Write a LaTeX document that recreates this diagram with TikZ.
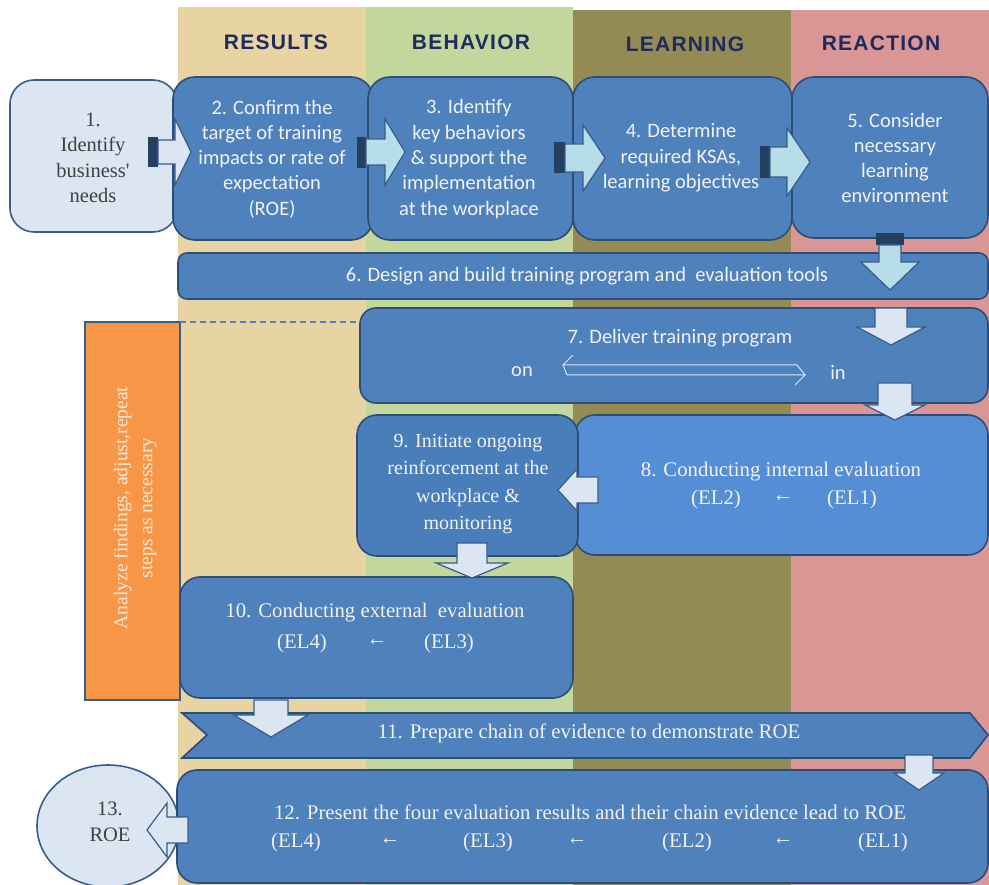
\documentclass[tikz,border=0pt]{standalone}
\usepackage{fontspec}
\setmainfont{Liberation Serif}
\newfontfamily\calfont{Carlito}
\newfontfamily\serfont{Liberation Serif}
\newfontfamily\hdrfont[LetterSpace=6]{Liberation Sans}
\usetikzlibrary{fit,shapes.geometric}
\definecolor{resc}{HTML}{E8D3A2}
\definecolor{behc}{HTML}{C3D69B}
\definecolor{learc}{HTML}{948A54}
\definecolor{reac}{HTML}{D99694}
\definecolor{boxc}{HTML}{4F81BD}
\definecolor{boxb}{HTML}{2C4D75}
\definecolor{boxnine}{HTML}{4A7EBB}
\definecolor{boxeight}{HTML}{558ED5}
\definecolor{lightc}{HTML}{DCE6F2}
\definecolor{cyanc}{HTML}{B7DEE8}
\definecolor{tailc}{HTML}{243F60}
\definecolor{arrline}{HTML}{385D8A}
\definecolor{hdrc}{HTML}{1F2A5E}
\definecolor{orc}{HTML}{F79646}
\definecolor{txtc}{HTML}{F2F2F2}
\definecolor{darktxt}{HTML}{404040}
\definecolor{ortxt}{HTML}{FDE9D9}
\newcommand\blockarrow[8]{%
\begin{scope}[shift={(#1,#2)}, rotate=#3]
\filldraw[draw=arrline, line width=1.2pt, fill=#8] (0,-#5) -- (#4,-#5) -- (#4,-#7) -- ({#4+#6},0) -- (#4,#7) -- (#4,#5) -- (0,#5) -- cycle;
\end{scope}}
\begin{document}
\begin{tikzpicture}[x=1pt,y=-1pt,
  box/.style={draw=boxb, line width=1.6pt, fill=boxc, rounded corners=22pt, inner sep=0pt, outer sep=0pt},
  lbox/.style={draw=arrline, line width=1.6pt, fill=lightc, rounded corners=24pt, inner sep=0pt, outer sep=0pt},
  obox/.style={draw=arrline, line width=1.6pt, fill=orc, inner sep=0pt, outer sep=0pt},
  hdr/.style={font=\hdrfont\bfseries\fontsize{21}{24}\selectfont, text=hdrc},
  ctxt/.style={font=\calfont\fontsize{20.5}{25.3}\selectfont, text=txtc, align=center, inner sep=0pt},
  stxt/.style={font=\serfont\fontsize{20.8}{26}\selectfont, text=txtc, align=center, inner sep=0pt},
  dtxt/.style={font=\serfont\fontsize{20.5}{25.5}\selectfont, text=darktxt, align=center, inner sep=0pt}
]
\useasboundingbox (0,0) rectangle (989,885);
% columns
\fill[resc] (178,7) rectangle (366,885);
\fill[behc] (366,7) rectangle (573,885);
\fill[learc] (573,10) rectangle (791,885);
\fill[reac] (791,10) rectangle (989,885);
% headers
\node[hdr] (hres) at (276,42) {RESULTS};
\node[hdr] (hbeh) at (471,42) {BEHAVIOR};
\node[hdr] (hlea) at (685,44) {LEARNING};
\node[hdr] (hrea) at (881,43) {REACTION};
% row 1
\node[lbox, fit={(10,80) (177,232)}] (b1) {};
\node[box, fit={(173,77) (373,240)}] (b2) {};
\node[box, fit={(368,77) (573,240)}] (b3) {};
\node[box, fit={(573,77) (792,240)}] (b4) {};
\node[box, fit={(792,77) (988,238)}] (b5) {};
\node[dtxt] (t1) at (93,158) {1.\\Identify\\business'\\needs};
\node[ctxt] (t2) at (272,159) {2. Confirm the\\target of training\\impacts or rate of\\expectation\\(ROE)};
\node[ctxt] (t3) at (469,159) {3. Identify\\key behaviors\\\& support the\\implementation\\at the workplace};
\node[ctxt] (t4) at (681,158) {4. Determine\\required KSAs,\\learning objectives};
\node[ctxt] (t5) at (895,158) {5. Consider\\necessary\\learning\\environment};
% row 1 arrows
\fill[tailc] (148,137) rectangle (158,167);
\blockarrow{158}{152}{0}{17}{12}{16}{33}{lightc}
\fill[tailc] (357,137) rectangle (366,168);
\blockarrow{366}{152}{0}{19}{13}{20}{33}{cyanc}
\fill[tailc] (554,142) rectangle (565,173);
\blockarrow{565}{158}{0}{18}{14}{22}{33}{cyanc}
\fill[tailc] (760,146) rectangle (770,178);
\blockarrow{770}{162}{0}{17}{15}{23}{34}{cyanc}
% box 6
\node[box, rounded corners=9pt, fit={(178,253) (988,299)}] (b6) {};
\node[ctxt] (t6) at (587,276) {6. Design and build training program and\ \ evaluation tools};
\fill[tailc] (876,233) rectangle (904,245);
\blockarrow{890}{245}{-90}{17}{11}{28}{29}{cyanc}
% orange box and dashed line
\node[obox, fit={(85,322) (180,700)}] (b0) {};
\node[stxt, text=ortxt, rotate=90, font=\serfont\fontsize{19.5}{25}\selectfont] (t0) at (135,508) {Analyze findings, adjust,repeat\\steps as necessary};
% box 7
\node[box, rounded corners=16pt, fit={(360,308) (988,403)}] (b7) {};
\draw[boxc, line width=1.3pt, dash pattern=on 6pt off 4pt] (b0.north east) -- (b0.north east -| b7.west);
\node[ctxt] (t7) at (680,338) {7. Deliver training program};
\node[ctxt] (t7on) at (522,372) {on};
\node[ctxt] (t7in) at (838,372) {in};
\coordinate (dl1) at (563,365);
\coordinate (dr1) at (797,365);
\coordinate (dl2) at (567,375);
\coordinate (dr2) at (805,375);
\draw[lightc, line width=1pt] (dr1) -- (dl1) -- (573,355);
\draw[lightc, line width=1pt] (dl1) -- (dl2) -- (dr2) -- (795,385);
\draw[lightc, line width=1pt] (dr2) -- (dr1);
\blockarrow{891}{308}{-90}{19}{16}{18}{34}{lightc}
% box 8 and 9
\node[box, fill=boxeight, rounded corners=20pt, fit={(575,415) (988,555)}] (b8) {};
\node[box, fill=boxnine, rounded corners=20pt, fit={(357,415) (578,556)}] (b9) {};
\blockarrow{895}{383}{-90}{22}{17}{15}{30}{lightc}
\node[stxt] (t8) at (781,472) {8. Conducting internal evaluation};
\node[stxt] (t8a) at (716,499) {(EL2)};
\node[stxt] (t8b) at (783,499) {←};
\node[stxt] (t8c) at (852,499) {(EL1)};
\node[stxt, font=\serfont\fontsize{20}{27.6}\selectfont] (t9) at (468,484) {9. Initiate ongoing\\reinforcement at the\\workplace \&\\monitoring};
\blockarrow{598}{490}{180}{21}{13}{19}{21}{lightc}
% box 10
\node[box, rounded corners=20pt, fit={(180,577) (573,698)}] (b10) {};
\blockarrow{472}{543}{-90}{20}{15}{15}{36}{lightc}
\node[stxt] (t10) at (375,613) {10. Conducting external\ \ evaluation};
\node[stxt] (t10a) at (302,643) {(EL4)};
\node[stxt] (t10b) at (377,643) {←};
\node[stxt] (t10c) at (449,643) {(EL3)};
% box 11
\filldraw[draw=boxb, line width=1.6pt, fill=boxc] (182,713) -- (970,713) -- (988,735) -- (970,758) -- (182,758) -- (207,735) -- cycle;
\node[stxt] (b11) at (589,733) {11. Prepare chain of evidence to demonstrate ROE};
\blockarrow{271}{700}{-90}{15}{17}{22}{37}{lightc}
% ellipse 13 and box 12
\node[ellipse, draw=arrline, line width=1.6pt, fill=lightc, minimum width=142pt, minimum height=122pt, inner sep=0pt] (b13) at (108,826) {};
\node[dtxt] (t13) at (110,822) {13.\\ROE};
\node[box, rounded corners=20pt, fit={(177,770) (988,883)}] (b12) {};
\blockarrow{919}{755}{-90}{18}{14}{17}{25}{lightc}
\blockarrow{188}{830}{180}{21}{13}{20}{27}{lightc}
\node[stxt] (t12) at (590,812) {12. Present the four evaluation results and their chain evidence lead to ROE};
\node[stxt] (t12a) at (296,842) {(EL4)};
\node[stxt] (t12b) at (390,842) {←};
\node[stxt] (t12c) at (488,842) {(EL3)};
\node[stxt] (t12d) at (577,842) {←};
\node[stxt] (t12e) at (687,842) {(EL2)};
\node[stxt] (t12f) at (783,842) {←};
\node[stxt] (t12g) at (883,842) {(EL1)};
\end{tikzpicture}
\end{document}
